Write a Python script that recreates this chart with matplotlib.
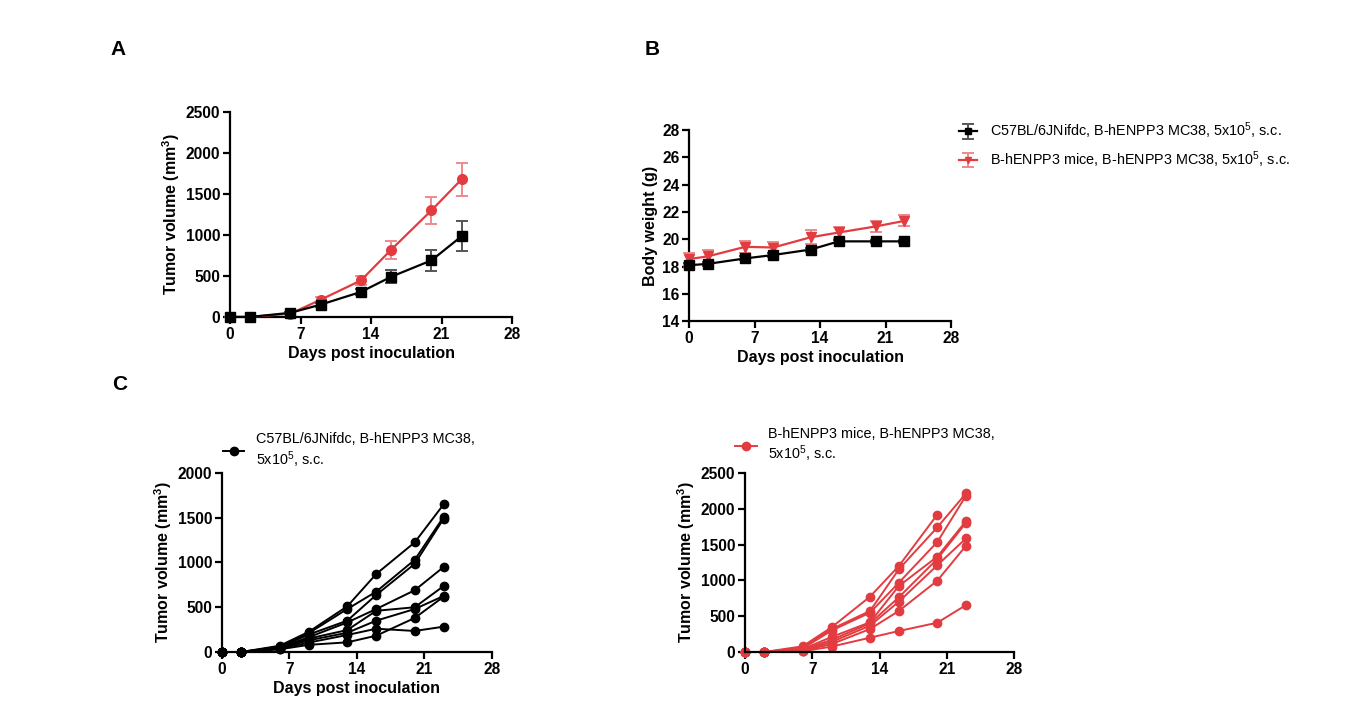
import numpy as np
import matplotlib.pyplot as plt

plt.rcParams['font.family'] = ['Liberation Sans', 'DejaVu Sans']
plt.rcParams['mathtext.fontset'] = 'custom'
plt.rcParams['mathtext.rm'] = 'Liberation Sans'
plt.rcParams['mathtext.bf'] = 'Liberation Sans:bold'

BLACK = '#000000'
RED = '#E23C40'

days = [0, 2, 6, 9, 13, 16, 20, 23]
ticks_x = [0, 7, 14, 21, 28]

# panel A: mean tumor volume +- SEM
vol_wt = [0, 0, 50, 150, 305, 490, 690, 985]
vol_wt_err = [0, 0, 10, 25, 40, 80, 125, 180]
vol_h = [0, 0, 40, 210, 445, 820, 1300, 1680]
vol_h_err = [0, 0, 10, 30, 60, 110, 165, 200]

# panel B: body weight
bw_wt = [18.1, 18.2, 18.6, 18.85, 19.25, 19.85, 19.85, 19.85]
bw_wt_err = [0.15, 0.15, 0.15, 0.15, 0.15, 0.1, 0.1, 0.1]
bw_h = [18.55, 18.75, 19.45, 19.4, 20.15, 20.5, 20.95, 21.35]
bw_h_err = [0.45, 0.45, 0.45, 0.4, 0.5, 0.4, 0.4, 0.4]

# panel C: individual mice
mice_wt = [
    [0, 0, 70, 225, 510, 871, 1225, 1650],
    [0, 0, 60, 210, 480, 674, 1030, 1510],
    [0, 0, 55, 195, 350, 637, 985, 1490],
    [0, 0, 50, 165, 330, 480, 690, 950],
    [0, 0, 45, 150, 245, 460, 500, 737],
    [0, 0, 40, 130, 215, 350, 480, 626],
    [0, 0, 35, 105, 190, 260, 235, 283],
    [0, 0, 30, 80, 108, 182, 380, 618],
]
mice_h = [
    [0, 0, 80, 345, 773, 1201, 1918, np.nan],
    [0, 0, 60, 320, 573, 1155, 1741, 2216],
    [0, 0, 50, 300, 549, 968, 1536, 2184],
    [0, 0, 40, 210, 415, 922, 1331, 1830],
    [0, 0, 30, 170, 400, 764, 1299, 1806],
    [0, 0, 20, 140, 368, 703, 1211, 1588],
    [0, 0, 15, 110, 321, 573, 996, 1485],
    [0, 0, 10, 75, 200, 293, 409, 656],
]

lab_wt = 'C57BL/6JNifdc, B-hENPP3 MC38, 5x10$^5$, s.c.'
lab_h = 'B-hENPP3 mice, B-hENPP3 MC38, 5x10$^5$, s.c.'
lab_wt2 = 'C57BL/6JNifdc, B-hENPP3 MC38,\n5x10$^5$, s.c.'
lab_h2 = 'B-hENPP3 mice, B-hENPP3 MC38,\n5x10$^5$, s.c.'
ylab_vol = r'Tumor volume (mm$^{\mathbf{3}}$)'


def style(ax, ylim, yticks, xlabel=True):
    for s in ['top', 'right']:
        ax.spines[s].set_visible(False)
    for s in ['left', 'bottom']:
        ax.spines[s].set_linewidth(1.6)
    ax.set_xlim(0, 28)
    ax.set_ylim(*ylim)
    ax.set_xticks(ticks_x)
    ax.set_yticks(yticks)
    ax.tick_params(width=1.6, length=5, labelsize=11.2, pad=2)
    for t in ax.get_xticklabels() + ax.get_yticklabels():
        t.set_fontweight('bold')
    if xlabel:
        ax.set_xlabel('Days post inoculation', fontsize=11.5, fontweight='bold', labelpad=3)


fig = plt.figure(figsize=(13.45, 7.09), dpi=100)

# A
axA = fig.add_axes([0.171, 0.553, 0.2097, 0.289])
axA.errorbar(days, vol_h, yerr=vol_h_err, color=RED, marker='o', ms=7, lw=1.6,
             ecolor='#EE8A8C', elinewidth=1.4, capsize=4, capthick=1.4, clip_on=False, zorder=3)
axA.errorbar(days, vol_wt, yerr=vol_wt_err, color=BLACK, marker='s', ms=7, lw=1.6,
             ecolor='#555555', elinewidth=1.4, capsize=4, capthick=1.4, clip_on=False, zorder=4)
style(axA, (0, 2500), [0, 500, 1000, 1500, 2000, 2500])
axA.set_ylabel(ylab_vol, fontsize=11.5, fontweight='bold', labelpad=3)

# B
axB = fig.add_axes([0.5123, 0.547, 0.1948, 0.2694])
axB.errorbar(days, bw_h, yerr=bw_h_err, color=RED, marker='v', ms=7, lw=1.6,
             ecolor='#EE8A8C', elinewidth=1.4, capsize=4, capthick=1.4, clip_on=False,
             zorder=3, label=lab_h)
axB.errorbar(days, bw_wt, yerr=bw_wt_err, color=BLACK, marker='s', ms=7, lw=1.6,
             ecolor='#555555', elinewidth=1.4, capsize=4, capthick=1.4, clip_on=False,
             zorder=4, label=lab_wt)
style(axB, (14, 28), [14, 16, 18, 20, 22, 24, 26, 28])
axB.set_ylabel('Body weight (g)', fontsize=11.5, fontweight='bold', labelpad=3)
h, l = axB.get_legend_handles_labels()
fig.legend(h[::-1], l[::-1], loc='upper left', bbox_to_anchor=(0.703, 0.848), frameon=False,
           fontsize=10.4, handlelength=1.3, labelspacing=0.55, handletextpad=0.9,
           markerscale=0.7)

# C left
axC1 = fig.add_axes([0.165, 0.0804, 0.2007, 0.2525])
for i, m in enumerate(mice_wt):
    axC1.plot(days, m, color=BLACK, marker='o', ms=6, lw=1.4, clip_on=False,
              label=lab_wt2 if i == 0 else None)
style(axC1, (0, 2000), [0, 500, 1000, 1500, 2000])
axC1.set_ylabel(ylab_vol, fontsize=11.5, fontweight='bold', labelpad=3)
axC1.legend(loc='lower left', bbox_to_anchor=(-0.045, 0.945), frameon=False, fontsize=10.4,
            handlelength=1.5, handletextpad=0.8)

# C right
axC2 = fig.add_axes([0.554, 0.0804, 0.2, 0.2525])
for i, m in enumerate(mice_h):
    axC2.plot(days, m, color=RED, marker='o', ms=6, lw=1.4, clip_on=False,
              label=lab_h2 if i == 0 else None)
style(axC2, (0, 2500), [0, 500, 1000, 1500, 2000, 2500], xlabel=False)
axC2.set_ylabel(ylab_vol, fontsize=11.5, fontweight='bold', labelpad=3)
axC2.legend(loc='lower left', bbox_to_anchor=(-0.085, 0.975), frameon=False, fontsize=10.4,
            handlelength=1.5, handletextpad=0.8)

fig.text(0.082, 0.93, 'A', fontsize=15, fontweight='bold', va='center')
fig.text(0.479, 0.93, 'B', fontsize=15, fontweight='bold', va='center')
fig.text(0.083, 0.458, 'C', fontsize=15, fontweight='bold', va='center')

fig.savefig('out.png', dpi=100)
